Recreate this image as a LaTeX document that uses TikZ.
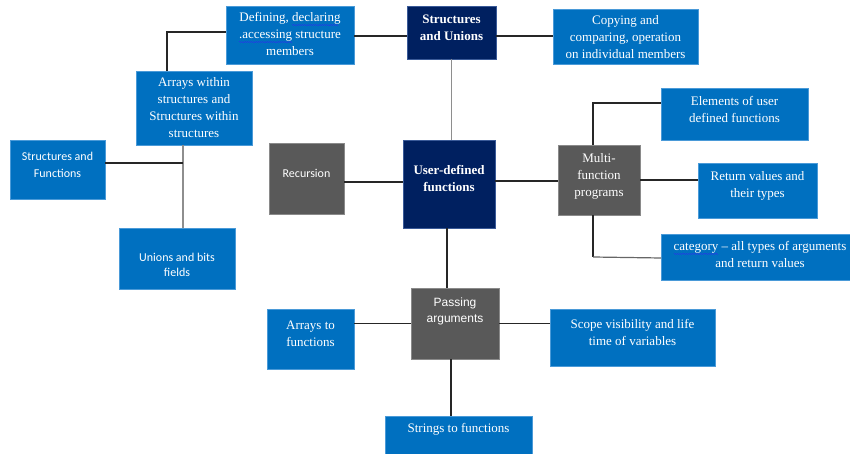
\documentclass[tikz,border=0pt]{standalone}
\usepackage{fontspec}
\setmainfont{Liberation Serif}
\newfontfamily\carlito{Carlito}
\newfontfamily\arialsans{Liberation Sans}

\definecolor{boxblue}{HTML}{0070C0}
\definecolor{boxrim}{HTML}{4A9AD8}
\definecolor{navy}{HTML}{002060}
\definecolor{navyrim}{HTML}{3A5A98}
\definecolor{boxgray}{HTML}{595959}
\definecolor{grayrim}{HTML}{8A8A8A}
\definecolor{linkgray}{HTML}{8E8E8E}
\definecolor{spellblue}{HTML}{2040E0}

% blue wavy underline for flagged words, built from alternating short rules
\newcommand\spellwave[1]{%
  \setbox0\hbox{#1}%
  \rlap{\color{spellblue}\leaders\hbox{%
      \vrule height -2.4pt depth 3.2pt width 1.1pt%
      \vrule height -3.1pt depth 3.9pt width 1.1pt}\hskip\wd0}%
  \box0\relax}

\tikzset{
  bluebox/.style={rectangle, fill=boxblue, draw=boxrim, line width=0.8pt, inner sep=0pt, outer sep=0pt},
  navybox/.style={rectangle, fill=navy, draw=navyrim, line width=0.8pt, inner sep=0pt, outer sep=0pt},
  graybox/.style={rectangle, fill=boxgray, draw=grayrim, line width=0.8pt, inner sep=0pt, outer sep=0pt},
  serif/.style={text=white, align=center, inner sep=0pt, font=\fontsize{13}{17}\selectfont},
  serifbold/.style={text=white, align=center, inner sep=0pt, font=\fontsize{13}{17}\selectfont\bfseries},
  calibri/.style={text=white, align=center, inner sep=0pt, font=\carlito\fontsize{12}{16}\selectfont},
  arial/.style={text=white, align=center, inner sep=0pt, font=\arialsans\fontsize{12}{16}\selectfont},
  link/.style={draw=black!85, line width=1.1pt},
  softlink/.style={draw=linkgray, line width=1.5pt},
}

\begin{document}
\begin{tikzpicture}[x=1pt, y=-1pt]
\useasboundingbox (0,0) rectangle (850,454);

% ---- boxes ----
\node[bluebox, minimum width=128, minimum height=58] (def) at (290,35) {};
\node[navybox, minimum width=89,  minimum height=53] (su)  at (451.5,32.5) {};
\node[bluebox, minimum width=145, minimum height=55] (cop) at (625.5,36.5) {};
\node[bluebox, minimum width=116, minimum height=74] (arr) at (194,108) {};
\node[bluebox, minimum width=95,  minimum height=59] (sf)  at (57.5,169.5) {};
\node[graybox, minimum width=75,  minimum height=71] (rec) at (306.5,178.5) {};
\node[navybox, minimum width=92,  minimum height=88] (ud)  at (449,184) {};
\node[graybox, minimum width=82,  minimum height=70] (mf)  at (599,180) {};
\node[bluebox, minimum width=147, minimum height=52] (el)  at (734.5,114) {};
\node[bluebox, minimum width=119, minimum height=55] (ret) at (757.5,190.5) {};
\node[bluebox, minimum width=190, minimum height=46] (cat) at (756,257) {};
\node[bluebox, minimum width=116, minimum height=61] (uni) at (177,258.5) {};
\node[bluebox, minimum width=87,  minimum height=60] (af)  at (310.5,339) {};
\node[graybox, minimum width=88,  minimum height=71] (pa)  at (455,323.5) {};
\node[bluebox, minimum width=165, minimum height=57] (sc)  at (632.5,337.5) {};
\node[bluebox, minimum width=147, minimum height=42] (st)  at (458.5,437) {};

% ---- labels ----
\node[serif] (deft) at ([yshift=1pt]def.center) {Defining, \spellwave{declaring}\\\spellwave{.accessing} structure\\members};
\node[serifbold] (sut) at ([yshift=4.5pt]su.center) {Structures\\and Unions};
\node[serif] (copt) at ([yshift=-1pt]cop.center) {Copying and\\comparing, operation\\on individual members};
\node[serif] (arrt) at (arr.center) {Arrays within\\structures and\\Structures within\\structures};
\node[calibri, font=\carlito\fontsize{12}{17}\selectfont] (sft) at ([yshift=5pt]sf.center) {Structures and\\Functions};
\node[calibri] (rect) at ([yshift=5.5pt]rec.center) {Recursion};
\node[serifbold] (udt) at ([yshift=5.5pt]ud.center) {User-defined\\functions};
\node[serif] (mft) at ([yshift=4pt]mf.center) {Multi-\\function\\programs};
\node[serif] (elt) at ([yshift=5pt]el.center) {Elements of user\\defined functions};
\node[serif] (rett) at ([yshift=5pt]ret.center) {Return values and\\their types};
\node[serif] (catt) at ([xshift=4pt, yshift=2.5pt]cat.center) {\spellwave{category} -- all types of arguments\\and return values};
\node[calibri, font=\carlito\fontsize{12}{15}\selectfont] (unit) at ([yshift=-6pt]uni.center) {Unions and bits\\fields};
\node[serif] (aft) at ([yshift=5.5pt]af.center) {Arrays to\\functions};
\node[arial] (pat) at ([yshift=12.5pt]pa.center) {Passing\\arguments};
\node[serif] (sct) at ([yshift=5pt]sc.center) {Scope visibility and life\\time of variables};
\node[serif] (stt) at ([yshift=7.5pt]st.center) {Strings to functions};

% ---- connector anchor points ----
\coordinate (arrtop)  at ([xshift=-27pt]arr.north);
\coordinate (arrfoot) at ([xshift=-11pt]arr.south);
\coordinate (mftop)   at ([xshift=-6pt]mf.north);
\coordinate (mffoot)  at ([xshift=-6pt]mf.south);
\coordinate (udfoot)  at ([xshift=-2pt]ud.south);
\coordinate (pafoot)  at ([xshift=-4pt]pa.south);

% ---- connectors ----
\draw[link] (arrtop) |- ([yshift=3pt]def.west);
\draw[link] ([yshift=-1pt]def.east) -- ([yshift=-1pt]def.east -| su.west);
\draw[link] ([yshift=-3.5pt]su.east) -- ([yshift=-3.5pt]su.east -| cop.west);
\draw[softlink] (su.south) -- (su.south |- ud.north);
\draw[softlink] (arrfoot) -- (arrfoot |- uni.north);
\draw[link] ([yshift=6.5pt]sf.east) -- ([yshift=6.5pt]sf.east -| arrfoot);
\draw[link] ([yshift=-3.5pt]rec.east) -- ([yshift=-3.5pt]rec.east -| ud.west);
\draw[link] ([yshift=-1pt]mf.west -| ud.east) -- ([yshift=-1pt]mf.west);
\draw[link] (mftop) |- ([yshift=11pt]el.west);
\draw[link] (mf.east) -- (mf.east -| ret.west);
\draw[link] (mffoot) -- (mffoot |- cat.west);
\draw[draw=black!60, line width=1.2pt] (mffoot |- cat.west) -- ([yshift=-1pt]cat.west);
\draw[link] (udfoot) -- (udfoot |- pa.north);
\draw[link] (pa.west) -- (pa.west -| af.east);
\draw[link] (pa.east) -- (pa.east -| sc.west);
\draw[link] (pafoot) -- (pafoot |- st.north);
\end{tikzpicture}
\end{document}
